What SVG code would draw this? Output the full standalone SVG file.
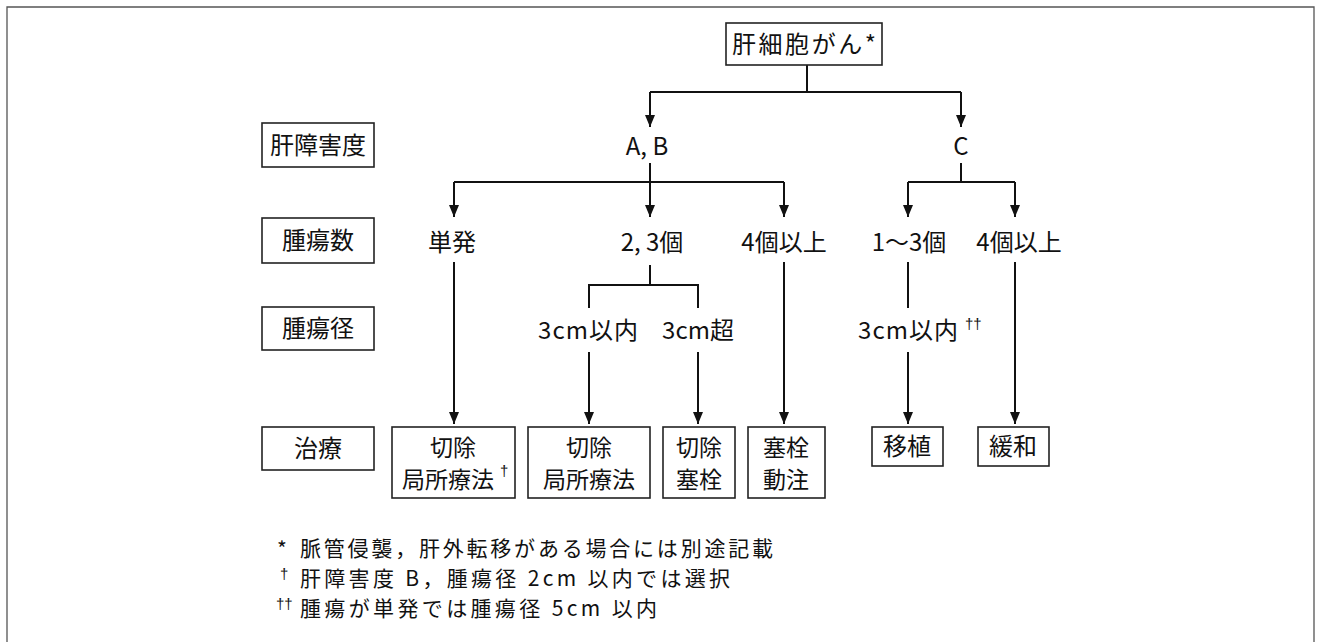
<svg xmlns="http://www.w3.org/2000/svg" width="1317" height="642" viewBox="0 0 1317 642">
<defs>
<style>
.t{font-family:"Noto Sans CJK JP","Noto Sans",sans-serif;font-size:24px;fill:#111;text-anchor:middle}
.t2{font-family:"Noto Sans CJK JP","Noto Sans",sans-serif;font-size:23px;fill:#111;text-anchor:middle}
.f{font-family:"Noto Sans CJK JP","Noto Sans",sans-serif;font-size:21px;fill:#111}
.dg{font-family:"Liberation Sans",sans-serif;font-size:15px;fill:#111}
.box{fill:#fff;stroke:#222;stroke-width:1.6}
.ln{fill:none;stroke:#111;stroke-width:2}
.frame{fill:none;stroke:#555;stroke-width:1.3}
</style>
<marker id="ah" viewBox="0 0 12 10" refX="12" refY="5" markerWidth="12" markerHeight="10" markerUnits="userSpaceOnUse" orient="auto">
<path d="M0,0 L12,5 L0,10 Z" fill="#111"/>
</marker>
</defs>
<rect width="1317" height="642" fill="#fff"/>
<path class="frame" d="M7,642 V7 H1314 V642"/>

<g id="connectors">
<path class="ln" d="M807,65 V92 M650,92 H961"/>
<path class="ln" d="M650,92 V127" marker-end="url(#ah)"/>
<path class="ln" d="M961,92 V127" marker-end="url(#ah)"/>
<path class="ln" d="M650,163 V182 M454,182 H784"/>
<path class="ln" d="M454,182 V217" marker-end="url(#ah)"/>
<path class="ln" d="M650,182 V217" marker-end="url(#ah)"/>
<path class="ln" d="M784,182 V217" marker-end="url(#ah)"/>
<path class="ln" d="M961,163 V182 M908,182 H1015"/>
<path class="ln" d="M908,182 V217" marker-end="url(#ah)"/>
<path class="ln" d="M1015,182 V217" marker-end="url(#ah)"/>
<path class="ln" d="M454,262 V424" marker-end="url(#ah)"/>
<path class="ln" d="M650,265 V285 M589,308 V285 H698 V308"/>
<path class="ln" d="M589,352 V424" marker-end="url(#ah)"/>
<path class="ln" d="M698,352 V424" marker-end="url(#ah)"/>
<path class="ln" d="M784,262 V424" marker-end="url(#ah)"/>
<path class="ln" d="M908,262 V308"/>
<path class="ln" d="M908,352 V424" marker-end="url(#ah)"/>
<path class="ln" d="M1015,262 V424" marker-end="url(#ah)"/>
</g>

<g id="root">
<rect class="box" x="726" y="23" width="156" height="42"/>
<text class="t" x="804" y="53" textLength="144" lengthAdjust="spacing">肝細胞がん*</text>
</g>

<g id="label-liver">
<rect class="box" x="262" y="123" width="112" height="44"/>
<text class="t" x="318" y="154">肝障害度</text>
</g>
<g id="label-count">
<rect class="box" x="262" y="218" width="112" height="45"/>
<text class="t" x="318" y="249">腫瘍数</text>
</g>
<g id="label-size">
<rect class="box" x="262" y="307" width="112" height="43"/>
<text class="t" x="318" y="337">腫瘍径</text>
</g>
<g id="label-treat">
<rect class="box" x="262" y="427" width="112" height="43"/>
<text class="t" x="318" y="457">治療</text>
</g>

<g id="ab"><text class="t" x="647" y="155">A, B</text></g>
<g id="c"><text class="t" x="961" y="155">C</text></g>

<g id="single"><text class="t" x="452" y="251">単発</text></g>
<g id="two-three"><text class="t" x="652" y="251">2, 3個</text></g>
<g id="four-ab"><text class="t" x="784" y="251">4個以上</text></g>
<g id="one-three"><text class="t" x="909" y="251">1〜3個</text></g>
<g id="four-c"><text class="t" x="1019" y="251">4個以上</text></g>

<g id="le3"><text class="t" x="588" y="339" textLength="100" lengthAdjust="spacing">3cm以内</text></g>
<g id="gt3"><text class="t" x="698" y="339">3cm超</text></g>
<g id="le3c"><text class="t" x="908" y="339" textLength="100" lengthAdjust="spacing">3cm以内</text><text class="dg" x="965" y="329">††</text></g>

<g id="t1">
<rect class="box" x="392" y="427" width="123" height="71"/>
<text class="t2" x="453" y="456">切除</text>
<text class="t2" x="448" y="488">局所療法</text><text class="dg" x="500" y="476">†</text>
</g>
<g id="t2">
<rect class="box" x="528" y="427" width="122" height="71"/>
<text class="t2" x="589" y="456">切除</text>
<text class="t2" x="589" y="488">局所療法</text>
</g>
<g id="t3">
<rect class="box" x="663" y="427" width="72" height="71"/>
<text class="t2" x="699" y="456">切除</text>
<text class="t2" x="699" y="488">塞栓</text>
</g>
<g id="t4">
<rect class="box" x="748" y="427" width="77" height="71"/>
<text class="t2" x="786" y="456">塞栓</text>
<text class="t2" x="786" y="488">動注</text>
</g>
<g id="t5">
<rect class="box" x="872" y="427" width="71" height="39"/>
<text class="t" x="907" y="455">移植</text>
</g>
<g id="t6">
<rect class="box" x="978" y="427" width="71" height="39"/>
<text class="t" x="1013" y="455">緩和</text>
</g>

<g id="notes">
<text class="f" x="277" y="557">*</text>
<text class="f" x="300" y="556" textLength="473" lengthAdjust="spacing">脈管侵襲，肝外転移がある場合には別途記載</text>
<text class="dg" x="280" y="579">†</text>
<text class="f" x="300" y="586" textLength="430" lengthAdjust="spacing">肝障害度 B，腫瘍径 2cm 以内では選択</text>
<text class="dg" x="276" y="609">††</text>
<text class="f" x="300" y="616" textLength="357" lengthAdjust="spacing">腫瘍が単発では腫瘍径 5cm 以内</text>
</g>
</svg>
